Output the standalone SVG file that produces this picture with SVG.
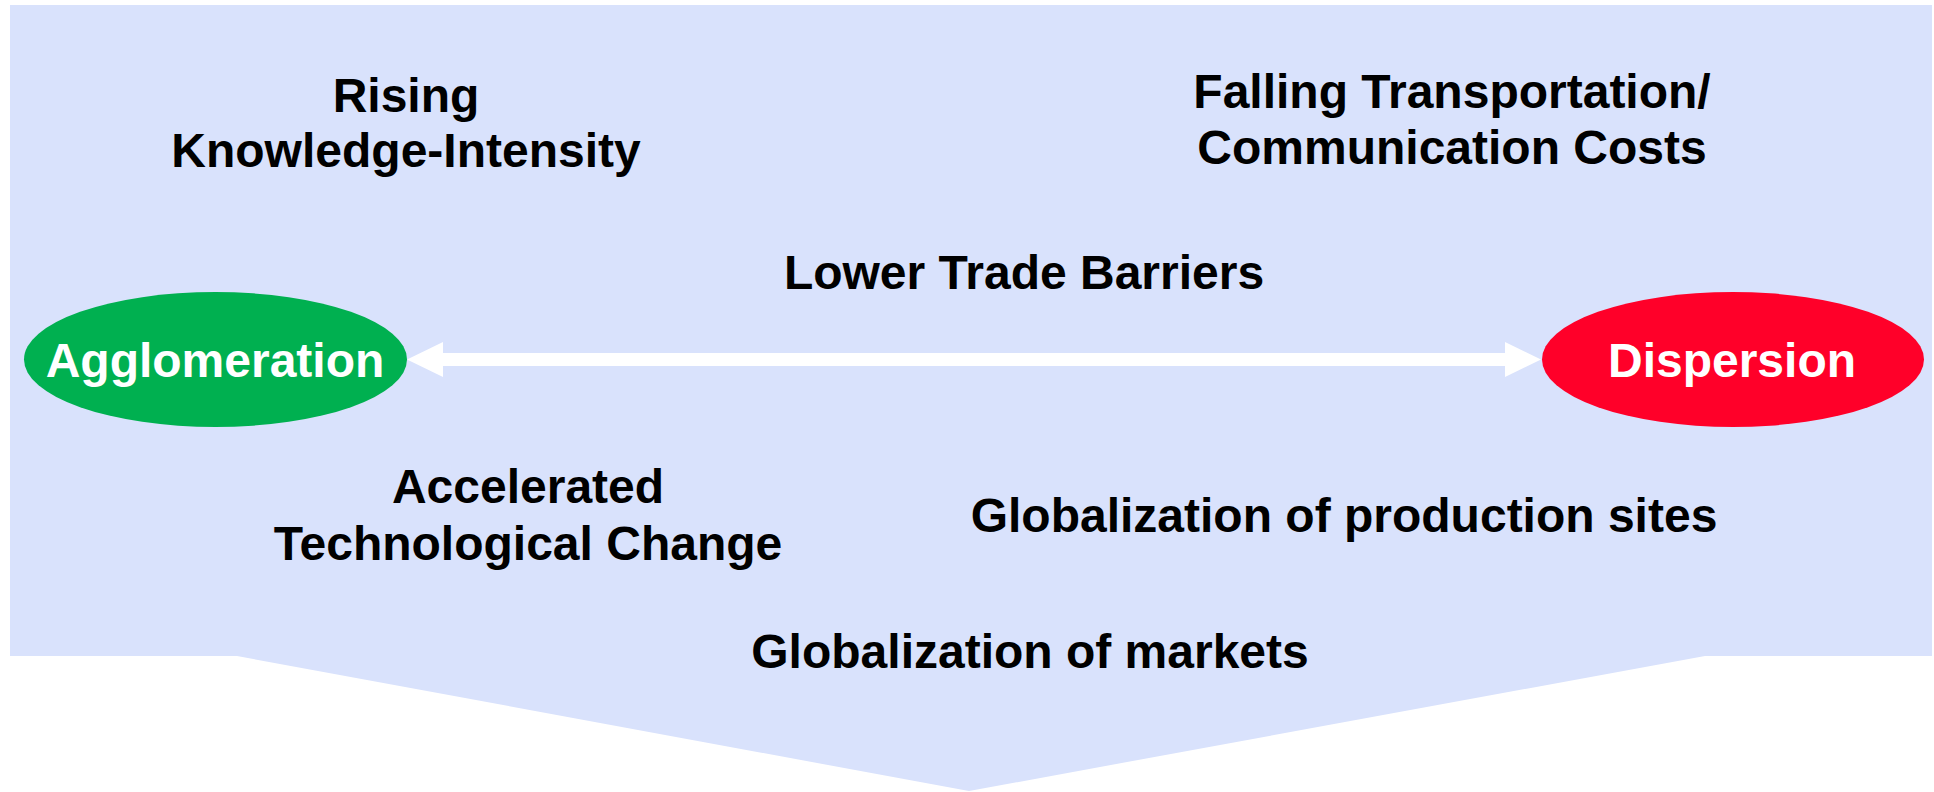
<svg xmlns="http://www.w3.org/2000/svg" width="1934" height="792" viewBox="0 0 1934 792">
  <defs>
    <style>
      .lbl { font-family: "Liberation Sans", Arial, sans-serif; font-weight: bold; font-size: 48px; fill: #000000; text-anchor: middle; }
      .node { font-family: "Liberation Sans", Arial, sans-serif; font-weight: bold; font-size: 48px; fill: #FFFFFF; text-anchor: middle; }
    </style>
  </defs>
  <rect x="0" y="0" width="1934" height="792" fill="#FFFFFF"/>
  <g id="background">
    <polygon points="10,5 1932,5 1932,656 1705,656 969,791 237,656 10,656" fill="#D9E2FC"/>
  </g>
  <g id="connectors">
    <rect x="440" y="353" width="1068" height="13" fill="#FFFFFF"/>
    <polygon points="407,359.5 443,342 443,377" fill="#FFFFFF"/>
    <polygon points="1541,359.5 1505,342 1505,377" fill="#FFFFFF"/>
  </g>
  <g id="agglomeration">
    <ellipse cx="215.5" cy="359.5" rx="191.5" ry="67.5" fill="#00B050"/>
    <text class="node" x="215" y="377">Agglomeration</text>
  </g>
  <g id="dispersion">
    <ellipse cx="1733" cy="359.5" rx="191" ry="67.5" fill="#FF0029"/>
    <text class="node" x="1732" y="377">Dispersion</text>
  </g>
  <g id="rising">
    <text class="lbl" x="406" y="112">Rising</text>
    <text class="lbl" x="406" y="167">Knowledge-Intensity</text>
  </g>
  <g id="falling">
    <text class="lbl" x="1452" y="108">Falling Transportation/</text>
    <text class="lbl" x="1452" y="164">Communication Costs</text>
  </g>
  <g id="trade">
    <text class="lbl" x="1024" y="289">Lower Trade Barriers</text>
  </g>
  <g id="accelerated">
    <text class="lbl" x="528" y="503">Accelerated</text>
    <text class="lbl" x="528" y="560">Technological Change</text>
  </g>
  <g id="production">
    <text class="lbl" x="1344" y="532">Globalization of production sites</text>
  </g>
  <g id="markets">
    <text class="lbl" x="1030" y="668">Globalization of markets</text>
  </g>
</svg>
